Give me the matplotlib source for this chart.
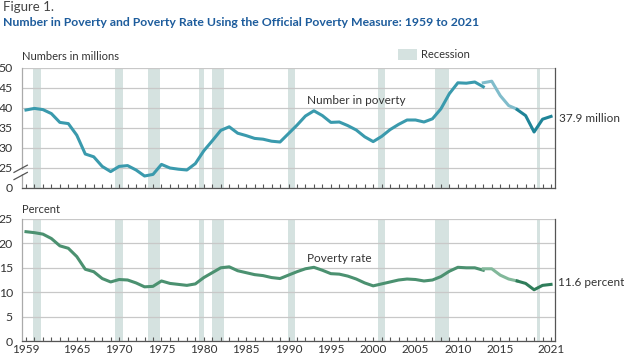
import numpy as np
import matplotlib.pyplot as plt
from matplotlib.patches import Rectangle

plt.rcParams['font.family'] = ['Lato', 'DejaVu Sans']

# 数据
years = list(range(1959, 2022))
number_poverty = [39.5, 39.9, 39.6, 38.6, 36.4, 36.1, 33.2, 28.5, 27.8, 25.4,
                  24.1, 25.4, 25.6, 24.5, 23.0, 23.4, 25.9, 25.0, 24.7, 24.5,
                  26.1, 29.3, 31.8, 34.4, 35.3, 33.7, 33.1, 32.4, 32.2, 31.7,
                  31.5, 33.6, 35.7, 38.0, 39.3, 38.1, 36.4, 36.5, 35.6, 34.5,
                  32.8, 31.6, 32.9, 34.6, 35.9, 37.0, 37.0, 36.5, 37.3, 39.8,
                  43.6, 46.3, 46.2, 46.5, 45.3]
number_mid_years = [2013, 2014, 2015, 2016, 2017]
number_mid = [46.3, 46.7, 43.1, 40.6, 39.7]
number_new_years = [2017, 2018, 2019, 2020, 2021]
number_new = [39.6, 38.1, 34.0, 37.2, 37.9]

rate_poverty = [22.4, 22.2, 21.9, 21.0, 19.5, 19.0, 17.3, 14.7, 14.2, 12.8,
                12.1, 12.6, 12.5, 11.9, 11.1, 11.2, 12.3, 11.8, 11.6, 11.4,
                11.7, 13.0, 14.0, 15.0, 15.2, 14.4, 14.0, 13.6, 13.4, 13.0,
                12.8, 13.5, 14.2, 14.8, 15.1, 14.5, 13.8, 13.7, 13.3, 12.7,
                11.9, 11.3, 11.7, 12.1, 12.5, 12.7, 12.6, 12.3, 12.5, 13.2,
                14.3, 15.1, 15.0, 15.0, 14.5]
rate_mid = [14.8, 14.8, 13.5, 12.7, 12.3]
rate_new = [12.3, 11.8, 10.5, 11.4, 11.6]

# 经济衰退区间
rec_start = [1959.8, 1969.5, 1973.4, 1979.4, 1980.95, 1989.9, 2000.6, 2007.3, 2019.3]
rec_end = [1960.8, 1970.4, 1974.8, 1980.0, 1982.4, 1990.75, 2001.4, 2008.9, 2019.7]

year_ticks = [1959, 1965, 1970, 1975, 1980, 1985, 1990, 1995, 2000, 2005, 2010, 2015, 2021]
top_ticks = [20, 25, 30, 35, 40, 45, 50]
top_labels = ['0', '25', '30', '35', '40', '45', '50']
bottom_ticks = [0, 5, 10, 15, 20, 25]

rec_color = '#d5e2e0'
txt_color = '#333333'
grid_color = '#c8c8c8'

fig = plt.figure(figsize=(6.24, 3.56), dpi=100)
ax1 = fig.add_axes([22 / 624, 1 - 188 / 356, 533 / 624, 120 / 356])
ax2 = fig.add_axes([22 / 624, 1 - 341 / 356, 533 / 624, 122 / 356])


def style_axis(ax, ylim, yticks, ylabels):
    ax.set_xlim(1958.53, 2021.47)
    ax.set_ylim(*ylim)
    for s, e in zip(rec_start, rec_end):
        ax.axvspan(s, e, color=rec_color, lw=0, zorder=0)
    ax.set_yticks(yticks)
    ax.set_yticklabels(ylabels)
    ax.yaxis.grid(True, color=grid_color, lw=0.9, zorder=1)
    ax.set_axisbelow(True)
    ax.set_xticks(year_ticks)
    ax.set_xticks(years, minor=True)
    ax.tick_params(axis='x', which='both', direction='in', length=3, color='#555555', width=0.8)
    ax.tick_params(axis='y', length=0, labelsize=8.8, labelcolor=txt_color, pad=6.5)
    ax.tick_params(axis='x', labelsize=8.5, labelcolor=txt_color, pad=2.5)
    ax.spines['top'].set_visible(False)
    ax.spines['left'].set_color('#aaaaaa')
    ax.spines['right'].set_color('#555555')
    ax.spines['bottom'].set_color('#555555')
    for sp in ax.spines.values():
        sp.set_linewidth(0.9)


style_axis(ax1, (20, 50), top_ticks, top_labels)
style_axis(ax2, (0, 25), bottom_ticks, [str(t) for t in bottom_ticks])
ax1.set_xticklabels([])

# 贫困人数
ax1.plot(years[:len(number_poverty)], number_poverty, color='#3a9aad', lw=2.2, zorder=3)
ax1.plot(number_mid_years, number_mid, color='#80bccb', lw=2.2, zorder=3)
ax1.plot(number_new_years, number_new, color='#1f8498', lw=2.2, zorder=3)

# 贫困率
ax2.plot(years[:len(rate_poverty)], rate_poverty, color='#4b9170', lw=2.2, zorder=3)
ax2.plot(number_mid_years, rate_mid, color='#82b89a', lw=2.2, zorder=3)
ax2.plot(number_new_years, rate_new, color='#2f7d5a', lw=2.2, zorder=3)

# 断轴标记
for dy in (0.0, 0.06):
    ax1.plot([-0.015, 0.01], [0.07 + dy, 0.13 + dy], transform=ax1.transAxes,
             color='#555555', lw=0.9, clip_on=False, zorder=5)
ax1.add_patch(Rectangle((-0.02, 0.115), 0.035, 0.035, transform=ax1.transAxes,
                        facecolor='white', edgecolor='none', clip_on=False, zorder=4))

# 文本
fig.text(3 / 624, 1 - 7 / 356, 'Figure 1.', fontsize=9.5, color='#444444', va='center')
fig.text(3 / 624, 1 - 22 / 356,
         'Number in Poverty and Poverty Rate Using the Official Poverty Measure: 1959 to 2021',
         fontsize=8.8, color='#1d5c9c', fontweight='bold', va='center')
fig.text(22 / 624, 1 - 57 / 356, 'Numbers in millions', fontsize=8, color=txt_color, va='center')
fig.text(22 / 624, 1 - 209 / 356, 'Percent', fontsize=8, color=txt_color, va='center')
fig.patches.append(Rectangle((398 / 624, 1 - 60 / 356), 19 / 624, 11 / 356,
                             transform=fig.transFigure, facecolor=rec_color, edgecolor='none'))
fig.text(421 / 624, 1 - 55 / 356, 'Recession', fontsize=8, color=txt_color, va='center')

ax1.text(1992.2, 42.0, 'Number in poverty', fontsize=8.5, color=txt_color, va='center')
ax2.text(1992.2, 17.0, 'Poverty rate', fontsize=8.5, color=txt_color, va='center')
fig.text(559 / 624, 1 - 118 / 356, '37.9 million', fontsize=8.5, color=txt_color, va='center')
fig.text(558 / 624, 1 - 283 / 356, '11.6 percent', fontsize=8.5, color=txt_color, va='center')

fig.savefig('out.png', dpi=100)
